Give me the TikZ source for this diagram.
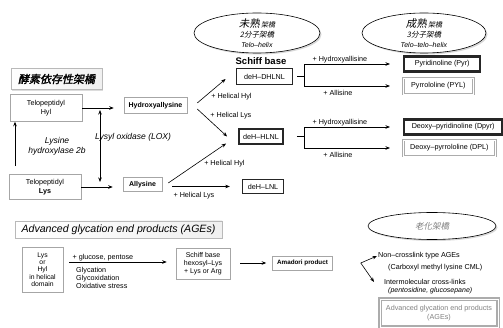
\documentclass[tikz,border=0pt]{standalone}
\usepackage{fontspec}
\setmainfont{Liberation Sans}
\newfontfamily\jpit[FakeSlant=0.2]{Noto Sans CJK JP}
\newfontfamily\jpbf[FakeSlant=0.2,FakeBold=2]{Noto Sans CJK JP}
\usetikzlibrary{arrows.meta,shapes.geometric,shadows,positioning}

\tikzset{
  arr/.style={-{Stealth[length=4.5pt,width=3.5pt]}, line width=0.6pt},
  dblarr/.style={{Stealth[length=4.5pt,width=3.5pt]}-{Stealth[length=4.5pt,width=3.5pt]}, line width=0.6pt},
  lbl/.style={inner sep=1pt, font=\fontsize{7.2}{8.5}\selectfont},
  itlbl/.style={inner sep=1pt, align=center, font=\itshape\fontsize{8.5}{10}\selectfont},
  plainbox/.style={draw=gray!70, fill=white, line width=0.5pt, align=center, inner sep=1pt, font=\fontsize{7.2}{8.5}\selectfont},
  boldbox/.style={plainbox, font=\bfseries\fontsize{7}{8}\selectfont},
  thickbox/.style={draw=black!85, line width=1.8pt, align=center, inner sep=1pt, font=\fontsize{7.2}{8}\selectfont},
  graybox/.style={draw=gray!65, line width=0.8pt, double=white, double distance=0.7pt, align=center, inner sep=1pt, font=\fontsize{7.2}{8.5}\selectfont},
  titlebox/.style={draw=gray!55, left color=white, right color=gray!12, drop shadow={shadow xshift=1.2pt, shadow yshift=-1.2pt, fill=gray!55}, inner sep=1pt},
  levelell/.style={ellipse, draw, line width=0.6pt, fill=white, drop shadow={shadow xshift=1.5pt, shadow yshift=-1.5pt, fill=gray!60}},
  elltext/.style={align=center, inner sep=0pt, font=\fontsize{7.5}{11}\selectfont}
}

\begin{document}
\begin{tikzpicture}[x=1pt,y=-1pt]
  \useasboundingbox (0,0) rectangle (503,328);

  % level ellipses
  \node[levelell, minimum width=126pt, minimum height=40pt] (immature) at (257,33) {};
  \node[elltext] (immaturetxt) at (immature) {{\jpit\fontsize{10.5}{11}\selectfont 未熟}\,{\jpit\fontsize{7}{11}\selectfont 架橋}\\[-0.5pt]{\jpit 2分子架橋}\\[-1pt]\textit{\fontsize{7}{9}\selectfont Telo–helix}};
  \node[levelell, minimum width=124pt, minimum height=40pt] (mature) at (424,33) {};
  \node[elltext] (maturetxt) at (mature) {{\jpit\fontsize{10.5}{11}\selectfont 成熟}\,{\jpit\fontsize{7}{11}\selectfont 架橋}\\[-0.5pt]{\jpit 3分子架橋}\\[-1pt]\textit{\fontsize{7}{9}\selectfont Telo–telo–helix}};
  \node[levelell, minimum width=128pt, minimum height=27pt] (aging) at (432,226) {};
  \node[elltext, text=gray] (agingtxt) at (aging) {\jpit\fontsize{8.5}{10}\selectfont 老化架橋};

  % enzymatic pathway
  \node[titlebox, minimum width=91pt, minimum height=21pt] (enz) at (56.5,79) {\jpbf\fontsize{11}{11}\selectfont 酵素依存性架橋};
  \node[plainbox, minimum width=72pt, minimum height=27pt] (hyl) at (46,108) {Telopeptidyl\\Hyl};
  \node[plainbox, minimum width=72pt, minimum height=25pt] (lys) at (45,187) {Telopeptidyl\\\textbf{Lys}};
  \node[boldbox, minimum width=63pt, minimum height=16pt] (hydroxy) at (155.5,105.5) {Hydroxyallysine};
  \node[boldbox, minimum width=39pt, minimum height=14pt] (allys) at (142.5,184.5) {Allysine};

  \draw[arr, shorten >=10pt] (hyl.east) -- (hyl.east -| hydroxy.west);
  \draw[arr, shorten >=10pt] (lys.east) -- (lys.east -| allys.west);
  \draw[arr, shorten <=8pt] ([xshift=-30pt]lys.north) -- ([xshift=-31pt]hyl.south);
  \coordinate (loxtop) at (100,110);
  \coordinate (loxbot) at (100,182);
  \draw[dblarr] (loxtop) -- (loxbot);
  \node[itlbl] (lh2b) at (57,146) {Lysine\\hydroxylase 2b};
  \node[itlbl] (lox) at (133,137) {Lysyl oxidase (LOX)};

  % Schiff base
  \node[font=\bfseries\fontsize{9.5}{10}\selectfont, inner sep=0pt] (schiff) at (261,61) {Schiff base};
  \node[thickbox, minimum width=56pt, minimum height=16pt] (dhlnl) at (264.5,76.5) {deH–DHLNL};
  \node[thickbox, minimum width=44pt, minimum height=15pt] (hlnl) at (261,136.5) {deH–HLNL};
  \node[thickbox, line width=1.4pt, minimum width=41pt, minimum height=14pt] (lnl) at (263,186.5) {deH–LNL};

  \coordinate (hxup) at ([xshift=10pt,yshift=2.5pt]hydroxy.east);
  \coordinate (hxdn) at ([xshift=10pt,yshift=-3.5pt]hydroxy.east);
  \coordinate (dhin) at ([xshift=-10pt,yshift=-2.5pt]dhlnl.west);
  \coordinate (hlin) at ([xshift=-11pt]hlnl.west);
  \coordinate (hlin2) at ([xshift=-12pt,yshift=-7pt]hlnl.west);
  \coordinate (alup) at ([xshift=6pt,yshift=1.5pt]allys.east);
  \coordinate (alrt) at ([xshift=10pt]allys.east);

  \path (hxup) edge[arr] node[lbl, anchor=north west, pos=0.45] {+ Helical Hyl} (dhin);
  \path (hxdn) edge[arr] node[lbl, anchor=south west, pos=0.4] {+ Helical Lys} (hlin);
  \path (alup) edge[arr] node[lbl, anchor=north west, pos=0.6] {+ Helical Hyl} (hlin2);
  \draw[arr, shorten >=12pt] (alrt |- lnl) -- node[lbl, anchor=north west, pos=0, yshift=-4pt] {+ Helical Lys} (lnl);

  % mature cross-links
  \node[thickbox, line width=2.4pt, anchor=west, minimum width=76pt, minimum height=15pt] (pyr) at (403,64) {Pyridinoline (Pyr)};
  \node[graybox, anchor=west, minimum width=70pt, minimum height=16pt] (pyl) at (403,86) {Pyrrololine (PYL)};
  \node[thickbox, line width=2.4pt, anchor=west, minimum width=98pt, minimum height=15pt] (dpyr) at (403,127) {Deoxy–pyridinoline (Dpyr)};
  \node[graybox, anchor=west, minimum width=92pt, minimum height=16pt] (dpl) at (403,148) {Deoxy–pyrrololine (DPL)};

  \coordinate (fk1) at ([xshift=11pt]dhlnl.east);
  \coordinate (fk2) at (fk1 |- hlnl);
  \draw[line width=0.6pt, shorten <=4pt] (dhlnl) -- (fk1);
  \draw[line width=0.6pt, shorten <=13pt] (hlnl) -- (fk2);
  \draw[arr, shorten >=13pt] (fk1) |- node[lbl, pos=0.68, above] {+ Hydroxyallisine} (pyr);
  \draw[arr, shorten >=13pt] (fk1) |- node[lbl, pos=0.67, below=3pt] {+ Allisine} (pyl);
  \draw[arr, shorten >=13pt] (fk2) |- node[lbl, pos=0.68, above] {+ Hydroxyallisine} (dpyr);
  \draw[arr, shorten >=13pt] (fk2) |- node[lbl, pos=0.67, below=3pt] {+ Allisine} (dpl);

  % glycation pathway
  \node[titlebox, minimum width=207pt, minimum height=17pt] (agetitle) at (118.5,229.5) {\itshape\fontsize{10.6}{11}\selectfont Advanced glycation end products (AGEs)};
  \node[plainbox, minimum width=41pt, minimum height=45pt, font=\fontsize{6.8}{7.3}\selectfont] (helix) at (42.5,269.5) {Lys\\or\\Hyl\\in helical\\domain};
  \node[plainbox, minimum width=54pt, minimum height=31pt, font=\fontsize{7}{7.8}\selectfont] (schiff2) at (203,263.5) {Schiff base\\hexosyl–Lys\\+ Lys or Arg};
  \node[boldbox, minimum width=60pt, minimum height=14pt, font=\bfseries\fontsize{6.3}{7}\selectfont] (amadori) at (302.5,263) {Amadori product};

  \draw[arr, shorten <=6pt, shorten >=9pt] ([yshift=7.5pt]helix.east) -- node[lbl, above right, pos=0, xshift=8pt] {+ glucose, pentose} ([yshift=1.5pt]schiff2.west);
  \node[lbl, align=left, anchor=north west, font=\fontsize{7.2}{8}\selectfont] (glyc) at (75,266) {Glycation\\Glycoxidation\\Oxidative stress};
  \draw[arr, shorten <=10pt, shorten >=6pt] (schiff2.east |- amadori) -- (amadori);

  \coordinate[right=28pt of amadori.east] (fk3);
  \node[lbl, anchor=west] (noncl) at (377,256) {Non–crosslink type AGEs};
  \node[lbl, anchor=west] (cml) at (387,268) {(Carboxyl methyl lysine CML)};
  \node[lbl, anchor=west] (intercl) at (383,282) {Intermolecular cross-links};
  \node[lbl, anchor=west, font=\itshape\fontsize{7}{8}\selectfont] (pento) at (387,291) {(pentosidine, glucosepane)};
  \draw[arr] (fk3) -- (noncl.west);
  \draw[arr] (fk3) -- ([xshift=-9pt]intercl.west);

  \node[graybox, line width=1.1pt, double distance=0.9pt, text=gray, minimum width=118pt, minimum height=28pt] (ages) at (439,313) {Advanced glycation end products\\(AGEs)};
\end{tikzpicture}
\end{document}
